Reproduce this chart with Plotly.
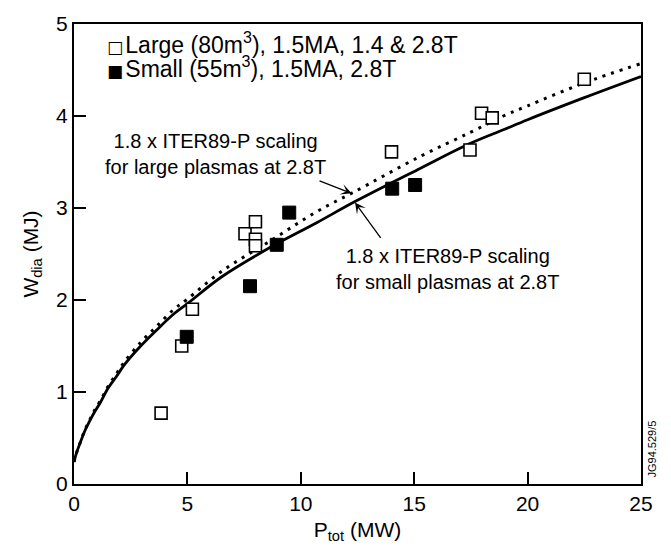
import plotly.graph_objects as go

# Large plasmas (80 m^3), open squares
large_p = [3.84, 4.75, 5.22, 7.54, 8.0, 8.0, 8.0, 14.0, 17.46, 17.97, 18.44, 22.5]
large_w = [0.77, 1.50, 1.90, 2.72, 2.85, 2.66, 2.59, 3.61, 3.63, 4.03, 3.98, 4.40]

# Small plasmas (55 m^3), filled squares
small_p = [4.97, 7.76, 8.94, 9.49, 14.03, 15.04]
small_w = [1.60, 2.15, 2.60, 2.95, 3.21, 3.25]

# 1.8 x ITER89-P scaling, small plasmas (solid)
fit_small_p = [0, 0.1, 0.26, 0.5, 0.7, 0.9, 1.15, 1.5, 1.9, 2.2, 2.94, 3.67, 4.41, 5.0, 6.5, 8.64, 10.7, 12.39, 15.26, 17.46, 18.93, 20, 22.5, 25]
fit_small_w = [0.24, 0.33, 0.44, 0.59, 0.69, 0.78, 0.88, 1.04, 1.18, 1.29, 1.50, 1.68, 1.85, 1.96, 2.25, 2.57, 2.84, 3.07, 3.43, 3.70, 3.85, 3.96, 4.20, 4.43]

# 1.8 x ITER89-P scaling, large plasmas (dotted)
fit_large_p = [0, 0.1, 0.26, 0.5, 0.7, 0.9, 1.15, 1.5, 1.9, 2.2, 2.94, 3.67, 4.41, 5.0, 6.5, 8.64, 10.7, 12.24, 15.26, 17.46, 18.93, 20, 22.5, 25]
fit_large_w = [0.24, 0.33, 0.44, 0.60, 0.70, 0.80, 0.90, 1.06, 1.21, 1.32, 1.54, 1.72, 1.90, 2.01, 2.31, 2.64, 2.96, 3.16, 3.56, 3.82, 4.00, 4.11, 4.36, 4.57]

legend_labels = ["Large (80m<sup>3</sup>), 1.5MA, 1.4 & 2.8T",
                 "Small (55m<sup>3</sup>), 1.5MA, 2.8T"]
legend_glyphs = ["\u25a1", "\u25a0"]

x_ticks = [0, 5, 10, 15, 20, 25]
y_ticks = [0, 1, 2, 3, 4, 5]

FONT = "Liberation Sans, Arial, Helvetica, sans-serif"

fig = go.Figure()

fig.add_trace(go.Scatter(
    x=fit_large_p, y=fit_large_w, mode="lines", showlegend=False,
    line=dict(color="black", width=3, dash="3px,6px", shape="spline"),
))
fig.add_trace(go.Scatter(
    x=fit_small_p, y=fit_small_w, mode="lines", showlegend=False,
    line=dict(color="black", width=2.8, shape="spline"),
))
fig.add_trace(go.Scatter(
    x=large_p, y=large_w, mode="markers", name=legend_labels[0], showlegend=False,
    marker=dict(symbol="square", size=12, color="white",
                line=dict(color="black", width=1.6)),
))
fig.add_trace(go.Scatter(
    x=small_p, y=small_w, mode="markers", name=legend_labels[1], showlegend=False,
    marker=dict(symbol="square", size=13, color="black",
                line=dict(color="black", width=1)),
))

# legend drawn as text
for i, (g, lab) in enumerate(zip(legend_glyphs, legend_labels)):
    fig.add_annotation(
        x=0.055, y=1.0, xref="paper", yref="paper", xanchor="left", yanchor="middle",
        yshift=-19 - 24 * i, showarrow=False, align="left",
        text=f"<span style='font-family:DejaVu Sans;font-size:17px'>{g}</span>"
             f"<span style='font-size:8px'> </span>{lab}",
        font=dict(size=23, color="black", family=FONT))

# text annotations
fig.add_annotation(x=6.22, y=3.59, xref="x", yref="y", showarrow=False,
                   text="1.8 x ITER89-P scaling<br>for large plasmas at 2.8T",
                   font=dict(size=20, color="black", family=FONT), align="center")
fig.add_annotation(x=16.45, y=2.34, xref="x", yref="y", showarrow=False,
                   text="1.8 x ITER89-P scaling<br>for small plasmas at 2.8T",
                   font=dict(size=20, color="black", family=FONT), align="center")
# arrows
fig.add_annotation(x=12.24, y=3.16, ax=10.76, ay=3.30, xref="x", yref="y",
                   axref="x", ayref="y", text="", showarrow=True,
                   arrowhead=3, arrowsize=1.4, arrowwidth=1.3, arrowcolor="black")
fig.add_annotation(x=12.39, y=3.06, ax=13.57, ay=2.66, xref="x", yref="y",
                   axref="x", ayref="y", text="", showarrow=True,
                   arrowhead=3, arrowsize=1.4, arrowwidth=1.3, arrowcolor="black")
# figure code
fig.add_annotation(x=1.0, y=0.0, xref="paper", yref="paper", xanchor="left",
                   yanchor="bottom", xshift=2, yshift=4, showarrow=False,
                   text="JG94.529/5", textangle=-90,
                   font=dict(size=11, color="black", family=FONT))

fig.update_layout(
    width=671, height=550,
    margin=dict(l=74, r=30, t=15, b=62),
    paper_bgcolor="white", plot_bgcolor="white",
    font=dict(family=FONT, size=20, color="black"),
    showlegend=False,
    xaxis=dict(range=[0, 25], tickvals=x_ticks, ticks="inside", ticklen=12,
               tickwidth=1.5, tickcolor="black", showline=True, linewidth=2,
               linecolor="black", mirror=True, showgrid=False, zeroline=False,
               tickfont=dict(size=21),
               title=dict(text="P<sub>tot</sub> (MW)", font=dict(size=21), standoff=8)),
    yaxis=dict(range=[0, 5], tickvals=y_ticks, ticks="inside", ticklen=12,
               tickwidth=1.5, tickcolor="black", showline=True, linewidth=2,
               linecolor="black", mirror=True, showgrid=False, zeroline=False,
               tickfont=dict(size=21),
               title=dict(text="W<sub>dia</sub> (MJ)", font=dict(size=21), standoff=12)),
)

fig.write_html("out.html")
